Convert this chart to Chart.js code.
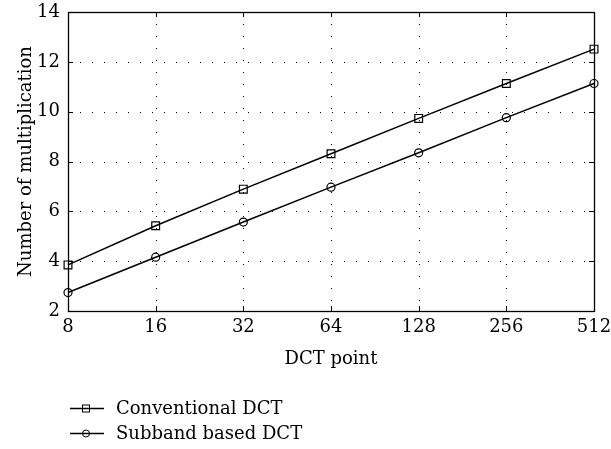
<!DOCTYPE html>
<html>
<head>
<meta charset="utf-8">
<script src="https://cdn.jsdelivr.net/npm/chart.js@4"></script>
<style>
  html, body { margin:0; padding:0; background:#fff; }
  #wrap { position:relative; width:611px; height:449px; }
  canvas { position:absolute; left:0; top:0; }
  .leg { position:absolute; left:70px; font-family:"DejaVu Serif", serif; font-size:18px; color:#000; height:20px; line-height:20px; white-space:nowrap; }
  .leg svg { position:absolute; left:0; top:2px; }
  .leg span { position:absolute; left:46px; top:0; }
</style>
</head>
<body>
<div id="wrap">
  <canvas id="c" width="611" height="449"></canvas>
  <div class="leg" style="top:398px;">
    <svg width="36" height="16"><line x1="0" y1="8.5" x2="34" y2="8.5" stroke="#000" stroke-width="1.3"/><rect x="12.5" y="5" width="7" height="7" fill="none" stroke="#000" stroke-width="1"/></svg>
    <span>Conventional DCT</span>
  </div>
  <div class="leg" style="top:423px;">
    <svg width="36" height="16"><line x1="0" y1="8.5" x2="34" y2="8.5" stroke="#000" stroke-width="1.3"/><circle cx="16" cy="8.5" r="3.5" fill="none" stroke="#000" stroke-width="1"/></svg>
    <span>Subband based DCT</span>
  </div>
</div>
<script>
const xLabels = ['8', '16', '32', '64', '128', '256', '512'];
const conventional = [3.85, 5.42, 6.89, 8.31, 9.73, 11.13, 12.51];
const subband = [2.74, 4.16, 5.57, 6.97, 8.35, 9.76, 11.13];
const yTicks = [2, 4, 6, 8, 10, 12, 14];
const seriesNames = ['Conventional DCT', 'Subband based DCT'];

const FONT = '"DejaVu Serif", serif';
const yMin = yTicks[0], yMax = yTicks[yTicks.length - 1];

const framePlugin = {
  id: 'frame',
  beforeDatasetsDraw(chart) {
    const {ctx, chartArea, scales} = chart;
    const {left, right, top, bottom} = chartArea;
    const x = scales.x, y = scales.y;
    ctx.save();
    ctx.strokeStyle = '#000';
    ctx.lineWidth = 1;
    ctx.setLineDash([1, 11]);
    ctx.beginPath();
    xLabels.forEach((l, i) => {
      if (i === 0 || i === xLabels.length - 1) return;
      const px = Math.round(x.getPixelForValue(i)) + 0.5;
      ctx.moveTo(px, top); ctx.lineTo(px, bottom);
    });
    yTicks.forEach(v => {
      if (v === yMin || v === yMax) return;
      const py = Math.round(y.getPixelForValue(v)) + 0.5;
      ctx.moveTo(left, py); ctx.lineTo(right, py);
    });
    ctx.stroke();
    ctx.setLineDash([]);
    const tl = 5;
    ctx.beginPath();
    xLabels.forEach((l, i) => {
      const px = Math.round(x.getPixelForValue(i)) + 0.5;
      ctx.moveTo(px, bottom); ctx.lineTo(px, bottom - tl);
      ctx.moveTo(px, top); ctx.lineTo(px, top + tl);
    });
    yTicks.forEach(v => {
      const py = Math.round(y.getPixelForValue(v)) + 0.5;
      ctx.moveTo(left, py); ctx.lineTo(left + tl, py);
      ctx.moveTo(right, py); ctx.lineTo(right - tl, py);
    });
    ctx.stroke();
    ctx.lineWidth = 1.3;
    ctx.strokeRect(Math.round(left) + 0.5, Math.round(top) + 0.5, Math.round(right - left), Math.round(bottom - top));
    ctx.restore();
  }
};

new Chart(document.getElementById('c'), {
  type: 'line',
  data: {
    labels: xLabels,
    datasets: [
      {
        label: seriesNames[0],
        data: conventional,
        borderColor: '#000',
        borderWidth: 1.5,
        backgroundColor: 'rgba(0,0,0,0)',
        pointStyle: 'rect',
        pointRadius: 5.5,
        pointBorderWidth: 1.2,
        pointBorderColor: '#000',
        pointBackgroundColor: 'rgba(0,0,0,0)',
        tension: 0,
        clip: false
      },
      {
        label: seriesNames[1],
        data: subband,
        borderColor: '#000',
        borderWidth: 1.5,
        backgroundColor: 'rgba(0,0,0,0)',
        pointStyle: 'circle',
        pointRadius: 4,
        pointBorderWidth: 1.2,
        pointBorderColor: '#000',
        pointBackgroundColor: 'rgba(0,0,0,0)',
        tension: 0,
        clip: false
      }
    ]
  },
  options: {
    responsive: false,
    animation: false,
    devicePixelRatio: 1,
    layout: { padding: { top: 12, right: 17, left: 0, bottom: 79 } },
    plugins: {
      legend: { display: false },
      tooltip: { enabled: false }
    },
    scales: {
      x: {
        type: 'category',
        offset: false,
        grid: { display: false, drawTicks: false },
        border: { display: false },
        ticks: { color: '#000', font: { family: FONT, size: 18 }, padding: 6, maxRotation: 0, autoSkip: false },
        title: { display: true, text: 'DCT point', color: '#000', font: { family: FONT, size: 18 }, padding: 0 },
        afterFit(scale) { scale.height = 449 - 79 - 311; scale.paddingLeft = 0; scale.paddingRight = 0; }
      },
      y: {
        min: yMin,
        max: yMax,
        grid: { display: false, drawTicks: false },
        border: { display: false },
        afterBuildTicks(scale) { scale.ticks = yTicks.map(v => ({ value: v })); },
        ticks: { color: '#000', font: { family: FONT, size: 18 }, padding: 8 },
        title: { display: true, text: 'Number of multiplication', color: '#000', font: { family: FONT, size: 18 }, padding: { top: 16, bottom: 0 } },
        afterFit(scale) { scale.width = 68; scale.paddingTop = 0; scale.paddingBottom = 0; }
      }
    }
  },
  plugins: [framePlugin]
});
</script>
</body>
</html>
